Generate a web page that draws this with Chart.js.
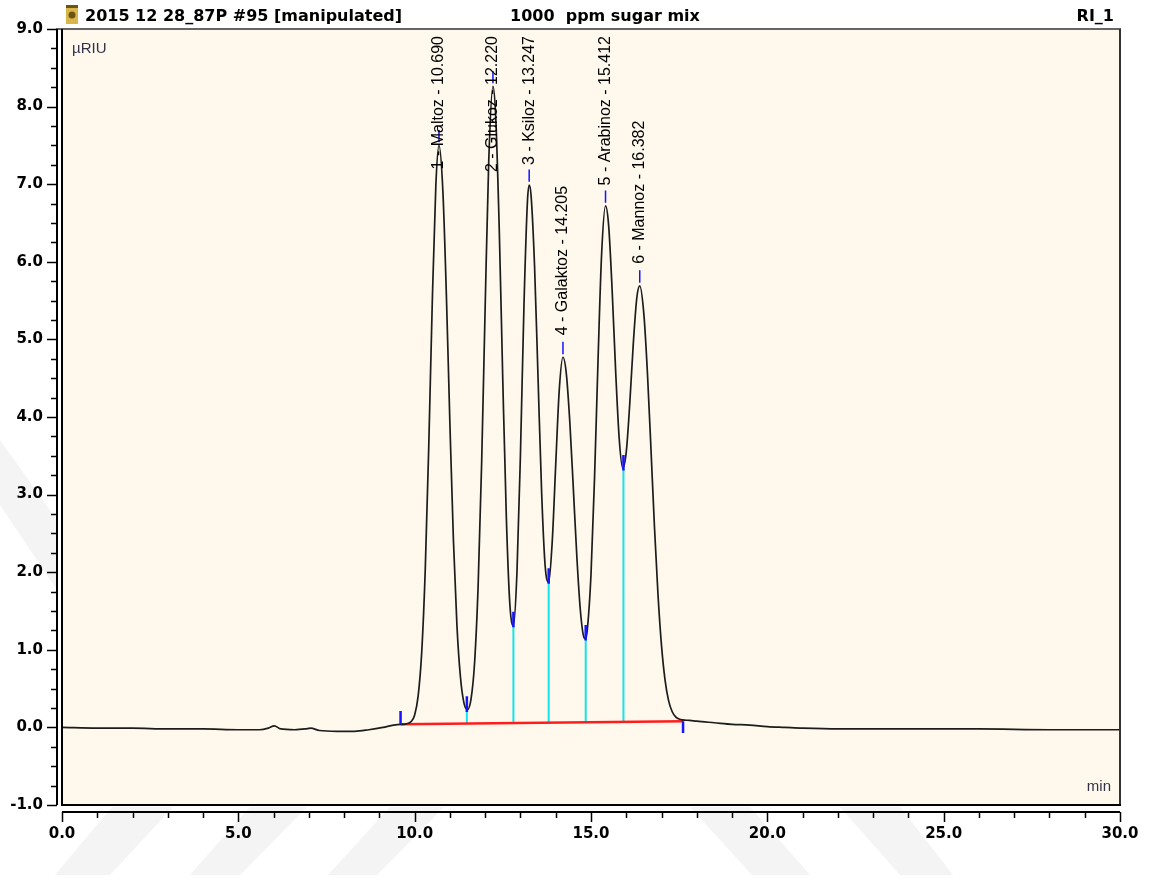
<!DOCTYPE html>
<html>
<head>
<meta charset="utf-8">
<script src="https://cdn.jsdelivr.net/npm/chart.js@4/dist/chart.umd.min.js"></script>
<style>
  html, body { margin: 0; padding: 0; background: #fff; }
  #wrap { width: 1155px; height: 880px; }
</style>
</head>
<body>
<div id="wrap"><canvas id="chromChart" width="1155" height="880"></canvas></div>
<script>
// signal trace (min, µRIU)
const times = [0, 1, 2, 3, 4, 5, 5.6, 5.85, 6.02, 6.2, 6.6, 6.9, 7.05, 7.3, 7.8, 8.3, 8.7, 9.1, 9.4,
  9.6, 9.7, 9.8, 9.9, 10.0, 10.1, 10.2, 10.3, 10.4, 10.5, 10.6, 10.69, 10.8, 10.9, 11.0, 11.1, 11.2,
  11.3, 11.4, 11.5, 11.6, 11.7, 11.8, 11.9, 12.0, 12.1, 12.22, 12.3, 12.4, 12.5, 12.6, 12.7, 12.8,
  12.9, 13.0, 13.1, 13.2, 13.25, 13.3, 13.4, 13.5, 13.6, 13.7, 13.8, 13.9, 14.0, 14.1, 14.205, 14.3,
  14.4, 14.5, 14.6, 14.7, 14.8, 14.85, 14.9, 15.0, 15.1, 15.2, 15.3, 15.412, 15.5, 15.6, 15.7, 15.8,
  15.9, 16.0, 16.1, 16.2, 16.3, 16.382, 16.5, 16.6, 16.7, 16.8, 16.9, 17.0, 17.1, 17.2, 17.3, 17.4,
  17.5, 17.6, 17.8, 18.0, 18.5, 19.0, 19.5, 20.0, 20.5, 21.0, 22.0, 24.0, 26.0, 28.0, 30.0];
const signal = [0.00, -0.01, -0.01, -0.02, -0.02, -0.03, -0.03, -0.01, 0.02, -0.02, -0.03, -0.02, -0.01, -0.04, -0.05, -0.05, -0.03, 0.00, 0.03,
  0.04, 0.04, 0.05, 0.075, 0.16, 0.41, 0.97, 2.03, 3.63, 5.49, 6.98, 7.50, 6.91, 5.56, 3.90, 2.40, 1.30,
  0.64, 0.31, 0.23, 0.37, 0.84, 1.83, 3.42, 5.44, 7.29, 8.26, 7.85, 6.39, 4.45, 2.70, 1.58, 1.31,
  1.99, 3.53, 5.45, 6.80, 6.99, 6.86, 5.94, 4.48, 3.03, 2.08, 1.87, 2.39, 3.39, 4.35, 4.77, 4.56,
  3.93, 3.07, 2.19, 1.50, 1.16, 1.14, 1.28, 1.97, 3.21, 4.74, 6.09, 6.72, 6.47, 5.63, 4.58, 3.72,
  3.34, 3.55, 4.18, 4.95, 5.54, 5.69, 5.32, 4.57, 3.59, 2.58, 1.71, 1.05, 0.61, 0.345, 0.205, 0.136,
  0.107, 0.096, 0.09, 0.08, 0.06, 0.04, 0.03, 0.01, 0.00, -0.01, -0.02, -0.02, -0.02, -0.03, -0.03];

// peak table
const peakNames = ['Maltoz', 'Glukoz', 'Ksiloz', 'Galaktoz', 'Arabinoz', 'Mannoz'];
const peakTimes = [10.690, 12.220, 13.247, 14.205, 15.412, 16.382];
const peakHeights = [7.50, 8.26, 6.99, 4.77, 6.72, 5.69];

// integration baseline and valley drops
const baseTimes = [9.6, 17.61];
const baseValues = [0.04, 0.078];
const valleyTimes = [11.48, 12.80, 13.80, 14.85, 15.92];
const valleyValues = [0.22, 1.31, 1.87, 1.14, 3.33];
const valleyBase = [0.048, 0.054, 0.058, 0.063, 0.068];

const xTickLabels = ['0.0', '5.0', '10.0', '15.0', '20.0', '25.0', '30.0'];
const yTickLabels = ['-1.0', '0.0', '1.0', '2.0', '3.0', '4.0', '5.0', '6.0', '7.0', '8.0', '9.0'];

function buildDrops() {
    const pts = [];
    valleyTimes.forEach((t, i) => {
        pts.push({ x: t, y: valleyBase[i] }, { x: t, y: valleyValues[i] }, { x: t, y: null });
    });
    return pts;
}

function buildMarkers() {
    const pts = [];
    const seg = (x, y0, y1) => pts.push({ x: x, y: y0 }, { x: x, y: y1 }, { x: x, y: null });
    seg(baseTimes[0], baseValues[0], baseValues[0] + 0.17);
    seg(baseTimes[1], baseValues[1], baseValues[1] - 0.15);
    valleyTimes.forEach((t, i) => seg(t, valleyValues[i] - 0.02, valleyValues[i] + 0.18));
    return pts;
}

function buildApexMarks() {
    const pts = [];
    peakTimes.forEach((t, i) => {
        pts.push({ x: t, y: peakHeights[i] + 0.04 }, { x: t, y: peakHeights[i] + 0.2 }, { x: t, y: null });
    });
    return pts;
}

// faint watermark stripes of the scanned page
const stripes = [
    [[55, 875], [110, 875], [173, 807], [112, 807]],
    [[190, 875], [240, 875], [307, 807], [250, 807]],
    [[328, 875], [377, 875], [444, 807], [390, 807]],
    [[690, 807], [750, 807], [810, 875], [752, 875]],
    [[840, 807], [900, 807], [953, 875], [900, 875]],
    [[0, 440], [0, 505], [57, 590], [57, 520]]
];

const framePlugin = {
    id: 'frame',
    beforeDraw(chart) {
        const { ctx, chartArea: a } = chart;
        ctx.save();
        ctx.fillStyle = '#ffffff';
        ctx.fillRect(0, 0, chart.width, chart.height);
        ctx.fillStyle = '#f4f4f4';
        stripes.forEach(p => {
            ctx.beginPath();
            ctx.moveTo(p[0][0], p[0][1]);
            p.slice(1).forEach(q => ctx.lineTo(q[0], q[1]));
            ctx.closePath();
            ctx.fill();
        });
        ctx.fillStyle = '#fef9ec';
        ctx.fillRect(a.left, a.top, a.right - a.left, a.bottom - a.top);
        ctx.restore();
    },
    afterDatasetsDraw(chart) {
        const { ctx, chartArea: a } = chart;
        const xs = chart.scales.x, ys = chart.scales.y;
        ctx.save();
        ctx.font = '16px "Liberation Sans"';
        ctx.fillStyle = '#000';
        ctx.textAlign = 'left';
        ctx.textBaseline = 'middle';
        peakNames.forEach((name, i) => {
            const text = `${i + 1} - ${name} - ${peakTimes[i].toFixed(3)}`;
            const w = ctx.measureText(text).width;
            const px = xs.getPixelForValue(peakTimes[i]);
            const apex = ys.getPixelForValue(peakHeights[i]);
            const bottom = Math.max(apex - 22, a.top + 7 + w);
            ctx.save();
            ctx.translate(px, bottom);
            ctx.rotate(-Math.PI / 2);
            ctx.fillText(text, 0, 0);
            ctx.restore();
        });
        ctx.restore();
    },
    afterDraw(chart) {
        const { ctx, chartArea: a } = chart;
        const xs = chart.scales.x, ys = chart.scales.y;
        ctx.save();

        // plot frame
        ctx.strokeStyle = '#666';
        ctx.lineWidth = 2;
        ctx.beginPath(); ctx.moveTo(56, a.top); ctx.lineTo(a.right + 1, a.top); ctx.stroke();
        ctx.strokeStyle = '#333';
        ctx.beginPath(); ctx.moveTo(a.right, a.top); ctx.lineTo(a.right, a.bottom); ctx.stroke();
        ctx.strokeStyle = '#000';
        ctx.beginPath(); ctx.moveTo(a.left, a.top); ctx.lineTo(a.left, a.bottom); ctx.lineTo(a.right + 1, a.bottom); ctx.stroke();

        // y axis with minor ticks every 0.25
        const yAxisX = a.left - 5;
        ctx.beginPath();
        ctx.moveTo(yAxisX, ys.getPixelForValue(9));
        ctx.lineTo(yAxisX, ys.getPixelForValue(-1));
        ctx.stroke();
        ctx.lineWidth = 1.5;
        for (let k = 0; k <= 40; k++) {
            const v = -1 + k * 0.25;
            const py = Math.round(ys.getPixelForValue(v)) + 0.5;
            const len = k % 4 === 0 ? 10 : 6;
            ctx.beginPath(); ctx.moveTo(yAxisX - len, py); ctx.lineTo(yAxisX, py); ctx.stroke();
        }

        // x axis below the frame, minor ticks every minute
        const xAxisY = a.bottom + 7;
        ctx.lineWidth = 2;
        ctx.beginPath();
        ctx.moveTo(xs.getPixelForValue(0), xAxisY);
        ctx.lineTo(xs.getPixelForValue(30), xAxisY);
        ctx.stroke();
        ctx.lineWidth = 1.5;
        for (let k = 0; k <= 30; k++) {
            const px = Math.round(xs.getPixelForValue(k)) + 0.5;
            const len = k % 5 === 0 ? 10 : 6;
            ctx.beginPath(); ctx.moveTo(px, xAxisY); ctx.lineTo(px, xAxisY + len); ctx.stroke();
        }

        // unit labels
        ctx.font = '15px "Liberation Sans"';
        ctx.fillStyle = '#33304a';
        ctx.textBaseline = 'middle';
        ctx.textAlign = 'left';
        ctx.fillText('µRIU', a.left + 10, a.top + 20);
        ctx.textAlign = 'right';
        ctx.fillText('min', a.right - 9, a.bottom - 18);

        // header row
        ctx.fillStyle = '#d9b64a';
        ctx.fillRect(66, 5, 12, 19);
        ctx.fillStyle = '#6b5313';
        ctx.fillRect(66, 5, 12, 3);
        ctx.beginPath(); ctx.arc(72, 15, 3.5, 0, Math.PI * 2); ctx.fill();
        ctx.fillStyle = '#000';
        ctx.font = 'bold 16px "DejaVu Sans"';
        ctx.textBaseline = 'alphabetic';
        ctx.textAlign = 'left';
        ctx.fillText('2015 12 28_87P #95 [manipulated]', 85, 21);
        ctx.fillText('1000  ppm sugar mix', 510, 21);
        ctx.textAlign = 'right';
        ctx.fillText('RI_1', 1114, 21);
        ctx.restore();
    }
};

const ctx = document.getElementById('chromChart').getContext('2d');
new Chart(ctx, {
    type: 'line',
    data: {
        datasets: [
            {
                data: times.map((t, i) => ({ x: t, y: signal[i] })),
                borderColor: '#1c1c1c',
                borderWidth: 1.7,
                pointRadius: 0,
                cubicInterpolationMode: 'monotone',
                order: 2
            },
            {
                data: baseTimes.map((t, i) => ({ x: t, y: baseValues[i] })),
                borderColor: '#ff1c1c',
                borderWidth: 2.5,
                pointRadius: 0,
                order: 3
            },
            {
                data: buildDrops(),
                borderColor: '#12e4ee',
                borderWidth: 2,
                pointRadius: 0,
                spanGaps: false,
                order: 4
            },
            {
                data: buildMarkers(),
                borderColor: '#1414ff',
                borderWidth: 2.5,
                pointRadius: 0,
                spanGaps: false,
                order: 1
            },
            {
                data: buildApexMarks(),
                borderColor: '#1414ff',
                borderWidth: 1.5,
                pointRadius: 0,
                spanGaps: false,
                order: 1
            }
        ]
    },
    options: {
        responsive: false,
        animation: false,
        devicePixelRatio: 1,
        layout: { padding: { top: 29, right: 35, left: 0, bottom: 0 } },
        plugins: { legend: { display: false }, tooltip: { enabled: false } },
        scales: {
            x: {
                type: 'linear',
                min: 0,
                max: 30,
                border: { display: false },
                grid: { display: false, drawTicks: false },
                ticks: {
                    stepSize: 5,
                    maxRotation: 0,
                    autoSkip: false,
                    padding: 20,
                    color: '#000',
                    font: { family: 'DejaVu Sans', size: 15, weight: 'bold' },
                    callback: (v) => xTickLabels[Math.round(v / 5)] ?? ''
                },
                afterFit: (scale) => {
                    scale.height = 75;
                    scale.paddingLeft = 0;
                    scale.paddingRight = 0;
                }
            },
            y: {
                min: -1,
                max: 9,
                border: { display: false },
                grid: { display: false, drawTicks: false },
                ticks: {
                    stepSize: 1,
                    padding: 19,
                    color: '#000',
                    font: { family: 'DejaVu Sans', size: 15, weight: 'bold' },
                    callback: (v) => yTickLabels[Math.round(v + 1)] ?? ''
                },
                afterFit: (scale) => {
                    scale.width = 62;
                    scale.paddingTop = 0;
                    scale.paddingBottom = 0;
                }
            }
        }
    },
    plugins: [framePlugin]
});
</script>
</body>
</html>
